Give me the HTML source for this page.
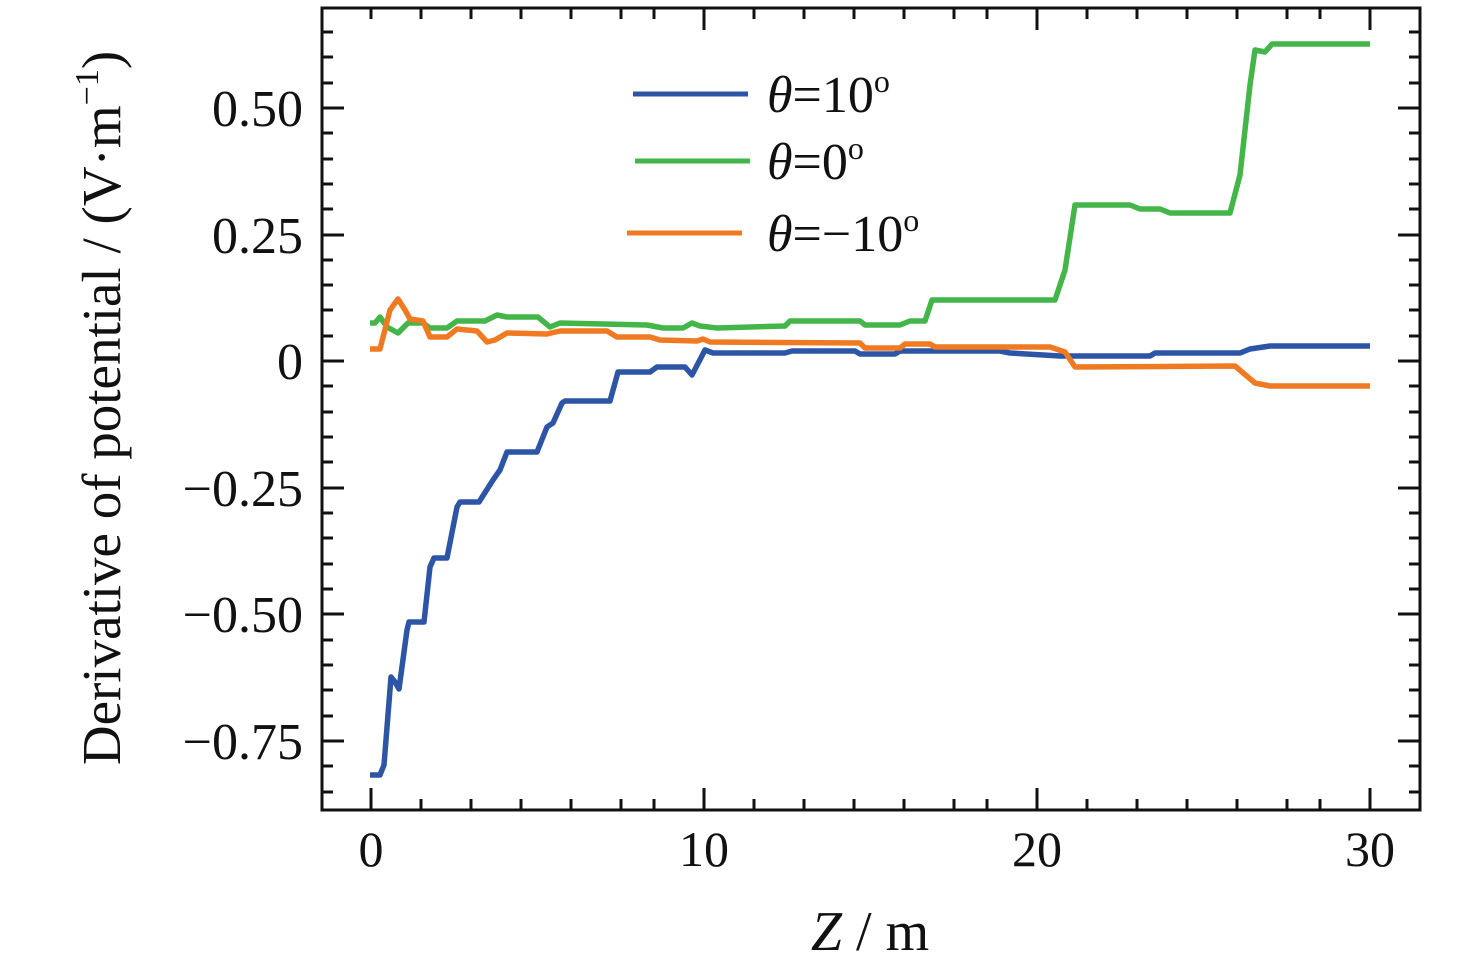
<!DOCTYPE html><html><head><style>body{margin:0;background:#fff}svg text{font-family:"Liberation Serif",serif;fill:#111}</style></head><body>
<svg width="1476" height="967" viewBox="0 0 1476 967" xmlns="http://www.w3.org/2000/svg">
<rect x="322" y="8" width="1098" height="802" fill="none" stroke="#111" stroke-width="3"/>
<g stroke="#111" stroke-width="3">
<path d="M322 108h22M322 235h22M322 361h22M322 488h22M322 614h22M322 741h22"/>
<path d="M1420 108h-22M1420 235h-22M1420 361h-22M1420 488h-22M1420 614h-22M1420 741h-22"/>
<path d="M322 32h11M322 57h11M322 83h11M322 133h11M322 159h11M322 184h11M322 209h11M322 260h11M322 285h11M322 310h11M322 336h11M322 386h11M322 412h11M322 437h11M322 462h11M322 513h11M322 538h11M322 564h11M322 589h11M322 640h11M322 665h11M322 690h11M322 716h11M322 766h11M322 792h11"/>
<path d="M1420 32h-11M1420 57h-11M1420 83h-11M1420 133h-11M1420 159h-11M1420 184h-11M1420 209h-11M1420 260h-11M1420 285h-11M1420 310h-11M1420 336h-11M1420 386h-11M1420 412h-11M1420 437h-11M1420 462h-11M1420 513h-11M1420 538h-11M1420 564h-11M1420 589h-11M1420 640h-11M1420 665h-11M1420 690h-11M1420 716h-11M1420 766h-11M1420 792h-11"/>
<path d="M371 810v-22M704 810v-22M1037 810v-22M1370 810v-22"/>
<path d="M421 810v-11M471 810v-11M521 810v-11M571 810v-11M621 810v-11M654 810v-11M754 810v-11M804 810v-11M854 810v-11M904 810v-11M954 810v-11M987 810v-11M1087 810v-11M1137 810v-11M1187 810v-11M1237 810v-11M1287 810v-11M1320 810v-11"/>
<path d="M371 8v11M421 8v11M471 8v11M521 8v11M571 8v11M621 8v11M654 8v11M704 8v22M754 8v11M804 8v11M854 8v11M904 8v11M954 8v11M987 8v11M1037 8v22M1087 8v11M1137 8v11M1187 8v11M1237 8v11M1287 8v11M1320 8v11M1370 8v22"/>
</g>
<g font-size="52" text-anchor="end">
<text x="303" y="126">0.50</text><text x="303" y="253">0.25</text><text x="303" y="379">0</text>
<text x="303" y="506">−0.25</text><text x="303" y="632">−0.50</text><text x="303" y="759">−0.75</text>
</g>
<g font-size="50" text-anchor="middle">
<text x="371" y="866">0</text><text x="704" y="866">10</text><text x="1037" y="866">20</text><text x="1370" y="866">30</text>
<text x="870" y="950" font-size="56"><tspan font-style="italic">Z</tspan> / m</text>
</g>
<text transform="translate(120,408) rotate(-90)" font-size="55" text-anchor="middle">Derivative of potential / (V·m<tspan font-size="34" dy="-22">−1</tspan><tspan dy="22">)</tspan></text>
<g fill="none" stroke-width="5.5" stroke-linejoin="round">
<path stroke="#2c55a6" d="M370 775L380 775L384 765L391 677L395 682L399 689L407 630L409 622L424 622L430 567L434 558L447 558L457 507L460 502L479 502L493 480L500 470L507 452L537 452L547 427L553 423L562 403L565 401L610 401L618 372L650 372L657 367L685 367L692 375L705 350L713 353L785 353L792 351L855 351L860 354L895 354L900 351L1000 351L1010 353L1060 356L1150 356L1155 353L1240 353L1250 349L1270 346L1370 346"/>
<path stroke="#43b549" d="M370 323L375 323L380 317L387 327L398 333L408 323L423 323L430 328L447 328L457 321L485 321L497 315L507 317L538 317L550 327L560 323L647 325L663 328L683 328L692 323L700 326L717 328L785 326L790 321L860 321L865 325L900 325L910 321L925 321L932 300L1055 300L1065 270L1075 205L1130 205L1140 209L1160 209L1170 213L1230 213L1240 175L1250 85L1255 50L1265 52L1272 44L1370 44"/>
<path stroke="#f07a22" d="M370 349L380 349L390 310L398 299L405 310L410 319L423 321L430 337L447 337L457 329L477 331L487 342L495 340L507 333L547 334L560 331L607 331L617 337L650 337L660 340L697 341L703 339L710 342L860 343L865 348L900 348L905 344L930 344L935 347L1050 347L1065 352L1075 367L1235 366L1242 372L1255 383L1270 386L1370 386"/>
</g>
<g stroke-width="5"><path stroke="#2c55a6" d="M633 94H748"/><path stroke="#43b549" d="M635 161H750"/><path stroke="#f07a22" d="M627 233H742"/></g>
<g font-size="52">
<text x="767" y="112"><tspan font-style="italic">θ</tspan>=10<tspan font-size="32" dy="-20">o</tspan></text>
<text x="767" y="179"><tspan font-style="italic">θ</tspan>=0<tspan font-size="32" dy="-20">o</tspan></text>
<text x="767" y="251"><tspan font-style="italic">θ</tspan>=−10<tspan font-size="32" dy="-20">o</tspan></text>
</g>
</svg></body></html>
